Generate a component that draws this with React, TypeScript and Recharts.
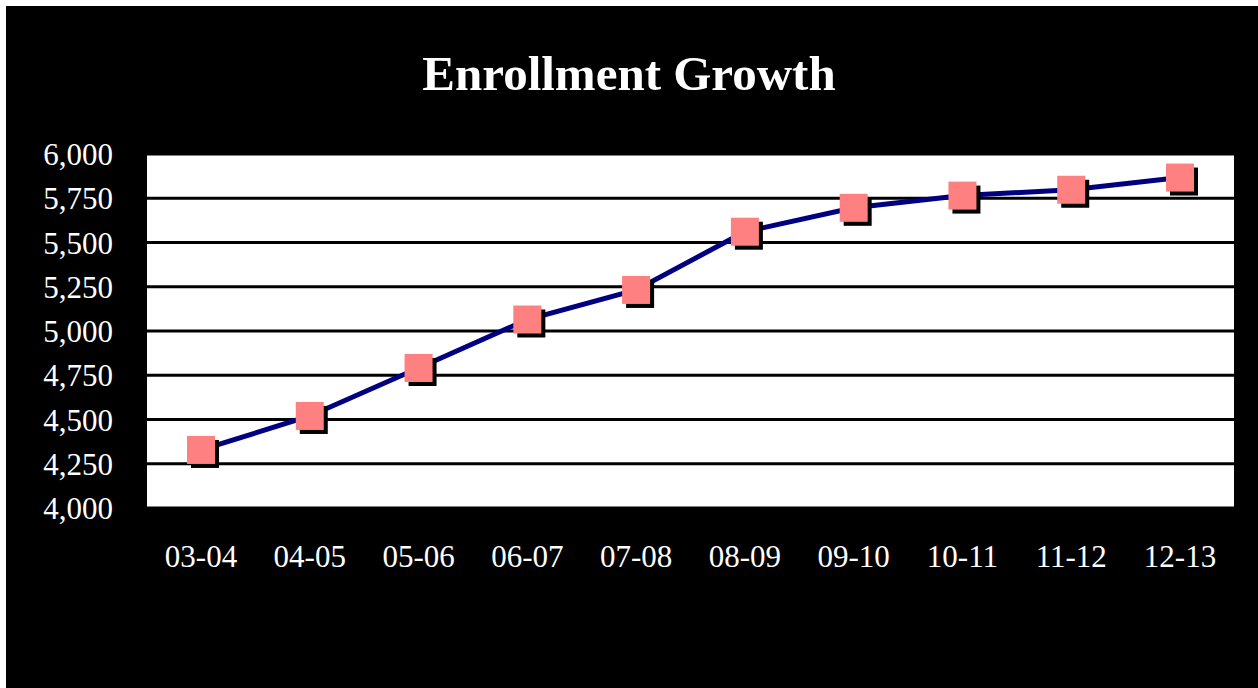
import { LineChart, Line, XAxis, YAxis, CartesianGrid } from "recharts";

const years = ["03-04", "04-05", "05-06", "06-07", "07-08", "08-09", "09-10", "10-11", "11-12", "12-13"];
const enrollment = [4328, 4520, 4791, 5065, 5232, 5561, 5696, 5765, 5798, 5867];
const yTicks = [4000, 4250, 4500, 4750, 5000, 5250, 5500, 5750, 6000];

const data = years.map((year, i) => ({ year, enrollment: enrollment[i] }));

const FONT = '"Liberation Serif", "Times New Roman", serif';

function SquareDot(props: any) {
  const { cx, cy } = props;
  if (cx == null || cy == null) return null;
  return (
    <g>
      <rect x={cx - 14 + 4} y={cy - 14 + 4} width={28} height={28} fill="#000" />
      <rect x={cx - 14} y={cy - 14} width={28} height={28} fill="#FF8080" />
    </g>
  );
}

export default function App() {
  return (
    <div
      style={{
        position: "absolute",
        left: 6,
        top: 6,
        width: 1252,
        height: 682,
        background: "#000",
        fontFamily: FONT,
      }}
    >
      <div
        style={{
          position: "absolute",
          left: -3,
          top: 40,
          width: 1252,
          textAlign: "center",
          color: "#fff",
          fontWeight: "bold",
          fontSize: 49,
          lineHeight: "56px",
        }}
      >
        Enrollment Growth
      </div>
      <LineChart
        width={1252}
        height={682}
        data={data}
        margin={{ top: 148, right: 24, left: 0, bottom: 120 }}
      >
        <CartesianGrid vertical={false} stroke="#000" strokeWidth={3} fill="#fff" />
        <XAxis
          dataKey="year"
          height={60}
          padding={{ left: 54, right: 54 }}
          axisLine={false}
          tickLine={false}
          tickSize={0}
          tickMargin={37}
          interval={0}
          tick={{ fill: "#fff", fontSize: 31, fontFamily: FONT }}
        />
        <YAxis
          width={141}
          domain={[4000, 6000]}
          ticks={yTicks}
          interval={0}
          axisLine={false}
          tickLine={false}
          tickSize={0}
          tickMargin={34}
          tickFormatter={(v) => v.toLocaleString("en-US")}
          tick={{ fill: "#fff", fontSize: 31, fontFamily: FONT }}
        />
        <Line
          dataKey="enrollment"
          type="linear"
          stroke="#000080"
          strokeWidth={5}
          dot={<SquareDot />}
          activeDot={false}
          isAnimationActive={false}
        />
      </LineChart>
    </div>
  );
}
